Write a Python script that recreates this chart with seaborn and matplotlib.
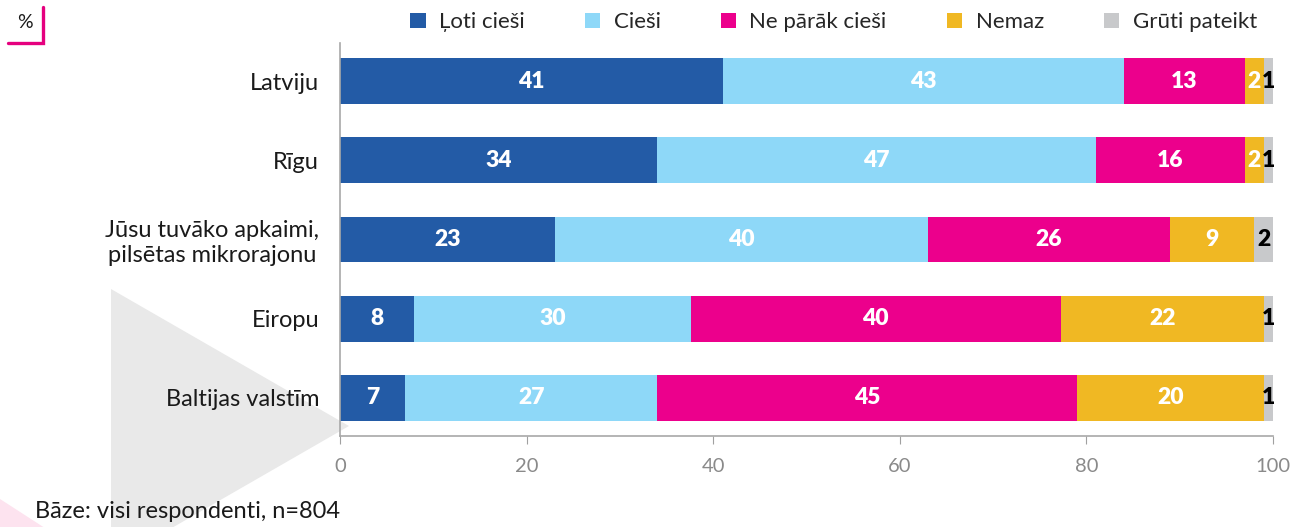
import matplotlib
matplotlib.use("Agg")
import matplotlib.pyplot as plt
import seaborn as sns
import pandas as pd
from matplotlib.patches import Polygon, Patch
from matplotlib.lines import Line2D

# data (%)
categories = ["Latviju", "Rīgu", "Jūsu tuvāko apkaimi,\npilsētas mikrorajonu", "Eiropu", "Baltijas valstīm"]
series = ["Ļoti cieši", "Cieši", "Ne pārāk cieši", "Nemaz", "Grūti pateikt"]
loti_ciesi = [41, 34, 23, 8, 7]
ciesi = [43, 47, 40, 30, 27]
ne_parak = [13, 16, 26, 40, 45]
nemaz = [2, 2, 9, 22, 20]
gruti = [1, 1, 2, 1, 1]
colors = ["#235ba6", "#8ed8f8", "#ec008c", "#f0b823", "#c8c9cb"]

df = pd.DataFrame(dict(zip(series, [loti_ciesi, ciesi, ne_parak, nemaz, gruti])), index=categories)
# rows are rounded, scale each to 100 so the bars end together
shares = df.div(df.sum(axis=1), axis=0) * 100
cum = shares.cumsum(axis=1)

sns.set_style("white")
plt.rcParams["font.family"] = ["Lato", "DejaVu Sans"]

W, H = 1301, 527
def px(x, y):
    return (x / W, 1 - y / H)

fig = plt.figure(figsize=(W / 100, H / 100), dpi=100)

# decorative shapes behind the chart
tri = Polygon([px(111, 289), px(349, 426), px(111, 563)], closed=True,
              transform=fig.transFigure, facecolor="#e9e9e9", edgecolor="none", zorder=-2)
fig.add_artist(tri)
pink = Polygon([px(0, 499), px(48, 530), px(0, 530)], closed=True,
               transform=fig.transFigure, facecolor="#fde3ef", edgecolor="none", zorder=-2)
fig.add_artist(pink)

ax = fig.add_axes([340 / W, 1 - 436 / H, 933 / W, 393 / H])
ax.patch.set_alpha(0)

for i in reversed(range(len(series))):
    d = pd.DataFrame({"cat": categories, "val": cum.iloc[:, i].values})
    sns.barplot(data=d, x="val", y="cat", color=colors[i], width=0.58, saturation=1,
                orient="h", edgecolor="none", ax=ax)

for r, cat in enumerate(categories):
    for i, s in enumerate(series):
        mid = cum.iloc[r, i] - shares.iloc[r, i] / 2
        ax.text(mid, r, str(df.iloc[r, i]), ha="center", va="center",
                color="black" if i == 4 else "white", fontsize=16.5, fontweight="heavy")

ax.set_xlim(0, 100)
ax.set_ylim(4.48, -0.48)
ax.set_xticks(range(0, 101, 20))
ax.set_xlabel("")
ax.set_ylabel("")
ax.tick_params(axis="x", direction="out", length=6, color="#a0a0a0", labelcolor="#8a8a8a",
               labelsize=14.5, pad=10, bottom=True)
ax.tick_params(axis="y", length=0, pad=15, labelsize=17, labelcolor="#1a1a1a")
for lab in ax.get_yticklabels():
    lab.set_multialignment("center")
for side in ["top", "right"]:
    ax.spines[side].set_visible(False)
for side in ["left", "bottom"]:
    ax.spines[side].set_color("#a8a8a8")
    ax.spines[side].set_linewidth(1.2)

handles = [Patch(facecolor=c, edgecolor="none") for c in colors]
fig.legend(handles, series, ncol=5, loc="upper right", bbox_to_anchor=(1277 / W, 1.015),
           frameon=False, fontsize=16, handlelength=0.7, handleheight=0.7,
           handletextpad=0.6, columnspacing=2.7)

# "%" marker with magenta corner
fig.text(*px(25, 22), "%", fontsize=14, ha="center", va="center", color="#1a1a1a")
fig.add_artist(Line2D([43 / W, 43 / W, 8 / W], [1 - 7 / H, 1 - 43 / H, 1 - 43 / H],
                      transform=fig.transFigure, color="#e5007e", linewidth=2.4,
                      solid_joinstyle="miter"))

fig.text(*px(35, 511), "Bāze: visi respondenti, n=804", fontsize=17, ha="left", va="center",
         color="#1a1a1a")

fig.savefig("out.png", dpi=100)
